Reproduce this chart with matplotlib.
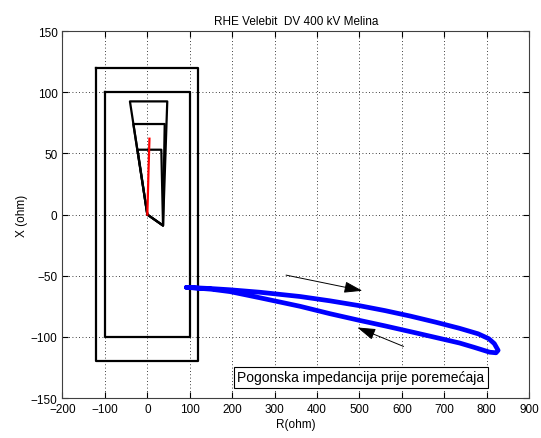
import numpy as np
import matplotlib
matplotlib.use('Agg')
import matplotlib.pyplot as plt

# zone characteristics (R, X)
outer_r = [-120, 120, 120, -120, -120]
outer_x = [120, 120, -120, -120, 120]
inner_r = [-100, 100, 100, -100, -100]
inner_x = [100, 100, -100, -100, 100]

zone1_r = [0, -23, 33, 37, 0]
zone1_x = [0, 53, 53, -9, 0]
zone2_r = [0, -33, 41, 37, 0]
zone2_x = [0, 74, 74, -9, 0]
zone3_r = [0, -41, 47, 37, 0]
zone3_x = [0, 92.5, 92.5, -9, 0]

# fault trajectory (red)
fault_r = [0, 1, 2, 3, 4, 5]
fault_x = [0, 12, 25, 38, 50, 62]

# load impedance loop (blue)
load_r = [92, 150, 195, 265, 360, 430, 500, 560, 620, 680, 736, 780, 805, 818, 827,
          822, 807, 770, 736, 680, 630, 560, 500, 430, 360, 265, 195, 150, 92]
load_x = [-59.5, -60.5, -61.5, -63.5, -67, -70.5, -74.5, -78.5, -83, -88, -93, -97.5, -101.5, -105.5, -111,
          -113, -112.5, -108.5, -105, -100.5, -96.5, -91, -86.5, -81, -75, -68, -63, -61, -59.5]

title = 'RHE Velebit  DV 400 kV Melina'
note = 'Pogonska impedancija prije poremećaja'

plt.rcParams['font.family'] = ['Liberation Sans', 'DejaVu Sans']

fig = plt.figure(figsize=(5.41, 4.39), dpi=100)
ax = fig.add_axes([0.1155, 0.091, 0.8625, 0.836])

ax.plot(outer_r, outer_x, 'k-', lw=1.6)
ax.plot(inner_r, inner_x, 'k-', lw=1.6)
for zr, zx in [(zone1_r, zone1_x), (zone2_r, zone2_x), (zone3_r, zone3_x)]:
    ax.plot(zr, zx, 'k-', lw=1.6)
ax.plot(fault_r, fault_x, 'r-', lw=1.6)
ax.plot(load_r, load_x, '-', color='#0000ff', lw=3.4, solid_joinstyle='round',
        solid_capstyle='round')

# direction arrows
arrow = dict(arrowstyle='-|>,head_length=0.8,head_width=0.25', color='k', lw=0.7,
             mutation_scale=14, shrinkA=0, shrinkB=0)
ax.annotate('', xy=(507, -62.3), xytext=(327, -49.5), arrowprops=arrow)
ax.annotate('', xy=(495, -92.3), xytext=(604, -107.8), arrowprops=arrow)

ax.text(212, -133, note, fontsize=10, va='center', ha='left',
        bbox=dict(boxstyle='square,pad=0.25', fc='white', ec='k', lw=0.8))

ax.set_xlim(-200, 900)
ax.set_ylim(-150, 150)
ax.set_xticks(np.arange(-200, 901, 100))
ax.set_yticks(np.arange(-150, 151, 50))
ax.grid(True, color='k', linestyle=(0, (1, 3)), lw=0.6)
ax.tick_params(direction='in', labelsize=8.5, length=4, top=True, right=True)
for s in ax.spines.values():
    s.set_color('#404040')
    s.set_linewidth(0.8)

ax.set_title(title, fontsize=8.5, pad=5)
ax.set_xlabel('R(ohm)', fontsize=8.5, labelpad=2)
ax.set_ylabel('X (ohm)', fontsize=8.5, labelpad=2)

fig.savefig('out.png', dpi=100, facecolor='white')
